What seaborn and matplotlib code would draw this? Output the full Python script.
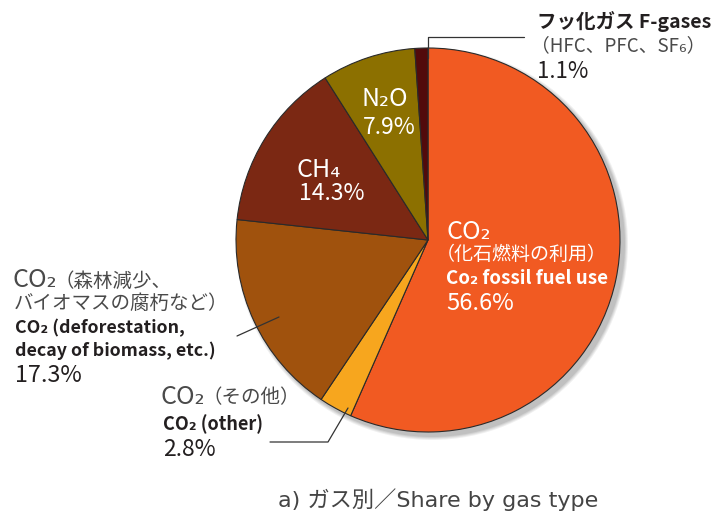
import matplotlib
matplotlib.use("Agg")
import matplotlib.pyplot as plt
import matplotlib.patches as mpatches
import seaborn as sns

# shares by gas type (%), clockwise from 12 o'clock
gases = ["CO2 fossil", "CO2 other", "CO2 deforestation", "CH4", "N2O", "F-gases"]
shares = [56.6, 2.8, 17.3, 14.3, 7.9, 1.1]
colors = ["#F15A22", "#F7A61E", "#A0520D", "#7B2813", "#8C7000", "#520A0B"]

sns.set_style("white")
plt.rcParams["font.family"] = ["Noto Sans CJK JP", "DejaVu Sans"]

W, H = 718, 516
fig = plt.figure(figsize=(W / 100, H / 100), dpi=100)
ax = fig.add_axes([0, 0, 1, 1])

cx, cy, r = 428, H - 240, 192

# soft shadow behind the pie
for i, a in enumerate([0.06, 0.06, 0.07, 0.08]):
    ax.add_patch(mpatches.Circle((cx + 4, cy - 4), r + 4 - i, color="#000000", alpha=a, lw=0, zorder=0))

ax.pie(shares, colors=colors, startangle=90, counterclock=False, center=(cx, cy), radius=r,
       wedgeprops=dict(edgecolor="#2a2a2a", linewidth=0.8), frame=True)
ax.set_xlim(0, W)
ax.set_ylim(0, H)
ax.set_aspect("equal")
ax.axis("off")

dark = "#231F20"
grey = "#4a4a4a"


def t(x, y, s, size=14, color=dark, weight="normal", ha="left", family=None):
    ax.text(x, H - y, s, fontsize=size, color=color, weight=weight, ha=ha, va="center",
            zorder=5, family=family)


# F-gases
t(537, 21, "フッ化ガス F-gases", 14, dark, "bold")
t(531, 46, "（HFC、PFC、SF₆）", 13.5, grey)
t(537, 72, "1.1%", 16, dark)
ax.plot([428, 428, 524], [H - 58, H - 37, H - 37], color="#333333", lw=0.9, zorder=4)

# N2O / CH4
t(362, 99, "N₂O", 18, "white")
t(363, 127, "7.9%", 16.5, "white")
t(297, 170, "CH₄", 18, "white")
t(299, 194, "14.3%", 16.5, "white")

# fossil fuel CO2
t(446, 232, "CO₂", 18, "white")
t(436, 254, "（化石燃料の利用）", 13.7, "white")
t(446, 278, "Co₂ fossil fuel use", 13.5, "white", "bold")
t(446, 303, "56.6%", 17, "white")

# deforestation CO2
t(13, 280, "CO₂", 18, grey)
t(55, 281, "（森林減少、", 14, grey)
t(14, 303, "バイオマスの腐朽など）", 14, grey)
t(15, 328, "CO₂ (deforestation,", 12.8, dark, "bold")
t(15, 351, "decay of biomass, etc.)", 12.8, dark, "bold")
t(15, 375, "17.3%", 16.8, dark)
ax.plot([237, 279], [H - 336, H - 317], color="#333333", lw=0.9, zorder=4)

# other CO2
t(161, 397, "CO₂", 18, grey)
t(202, 398, "（その他）", 14, grey)
t(163, 424, "CO₂ (other)", 13, dark, "bold")
t(163, 449, "2.8%", 16.5, dark)
ax.plot([270, 328, 348], [H - 442, H - 442, H - 408], color="#333333", lw=0.9, zorder=4)

t(438, 500, "a) ガス別／Share by gas type", 16, "#444444", ha="center",
  family=["DejaVu Sans", "Noto Sans CJK JP"])

fig.savefig("out.png", dpi=100)
